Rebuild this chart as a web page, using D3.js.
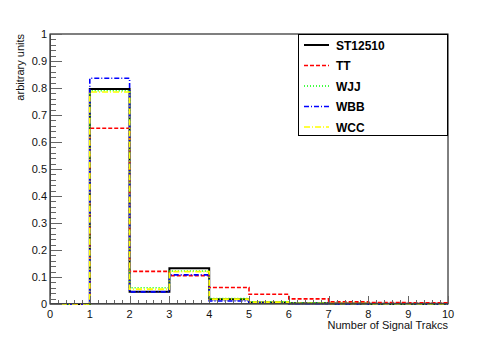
<!DOCTYPE html>
<html>
<head>
<meta charset="utf-8">
<script src="https://cdn.jsdelivr.net/npm/d3@7"></script>
<style>
  body { margin: 0; background: #fff; }
  text { font-family: "Liberation Sans", Arial, Helvetica, sans-serif; }
</style>
</head>
<body>
<div id="chart"></div>
<script>
// histogram of signal tracks, 10 bins from 0 to 10

const binEdges = [0, 1, 2, 3, 4, 5, 6, 7, 8, 9, 10];
const st12510 = [0, 0.796, 0.045, 0.132, 0.018, 0.006, 0.003, 0.002, 0.001, 0.001];
const tt      = [0, 0.651, 0.121, 0.105, 0.061, 0.036, 0.019, 0.008, 0.005, 0.004];
const wjj     = [0, 0.790, 0.060, 0.122, 0.020, 0.008, 0.004, 0.002, 0.001, 0.001];
const wbb     = [0, 0.836, 0.045, 0.108, 0.011, 0.004, 0.002, 0.001, 0.001, 0.001];
const wcc     = [0, 0.785, 0.055, 0.120, 0.018, 0.007, 0.003, 0.002, 0.001, 0.001];
const seriesNames = ["ST12510", "TT", "WJJ", "WBB", "WCC"];
const yTicks = [0, 0.1, 0.2, 0.3, 0.4, 0.5, 0.6, 0.7, 0.8, 0.9, 1];

const series = [
  {name: "ST12510", values: st12510, color: "#000000", dash: null, w: 2},
  {name: "TT", values: tt, color: "#ff0000", dash: "4 2", w: 1.6},
  {name: "WJJ", values: wjj, color: "#00ff00", dash: "1 2", w: 1.6},
  {name: "WBB", values: wbb, color: "#0000ff", dash: "5 2 1 2", w: 1.6},
  {name: "WCC", values: wcc, color: "#ffff00", dash: "6 2 1 2", w: 1.6}
];

const W = 498, H = 338;
const margin = {top: 34, right: 50, bottom: 34, left: 50};
const width = W - margin.left - margin.right,
      height = H - margin.top - margin.bottom;

const svg = d3.select("#chart")
  .append("svg")
    .attr("width", W)
    .attr("height", H);

const g = svg.append("g")
  .attr("transform", `translate(${margin.left}, ${margin.top})`);

let x = d3.scaleLinear().domain([0, 10]).range([0, width]);
let y = d3.scaleLinear().domain([0, 1]).range([height, 0]);

// frame
g.append("rect")
  .attr("x", 0).attr("y", 0)
  .attr("width", width).attr("height", height)
  .attr("fill", "none")
  .attr("stroke", "#000")
  .attr("stroke-width", 1);

// histograms as step outlines
const line = d3.line().x(d => x(d[0])).y(d => y(d[1]));
series.forEach(function(s) {
  let pts = [];
  s.values.forEach(function(v, i) {
    pts.push([binEdges[i], v]);
    pts.push([binEdges[i + 1], v]);
  });
  g.append("path")
    .attr("d", line(pts))
    .attr("fill", "none")
    .attr("stroke", s.color)
    .attr("stroke-width", s.w)
    .attr("stroke-dasharray", s.dash);
});

// Y axis
const yMinor = d3.range(0, 1.0001, 0.02);
g.append("g").selectAll("line")
  .data(yMinor)
  .join("line")
    .attr("x1", 0)
    .attr("x2", (d, i) => i % 5 === 0 ? 12 : 6)
    .attr("y1", d => Math.round(y(d)) + 0.5)
    .attr("y2", d => Math.round(y(d)) + 0.5)
    .attr("stroke", "#666");
g.append("line")
  .attr("x1", 0.5).attr("x2", 0.5).attr("y1", 0).attr("y2", height)
  .attr("stroke", "#444");
g.append("g").selectAll("text")
  .data(yTicks)
  .join("text")
    .attr("x", -3)
    .attr("y", d => y(d) + 4)
    .attr("text-anchor", "end")
    .attr("font-size", "11px")
    .attr("fill", "#111")
    .text(d => d3.format("~g")(d));

// X axis
const xMinor = d3.range(0, 10.0001, 0.2);
g.append("g").selectAll("line")
  .data(xMinor)
  .join("line")
    .attr("x1", d => Math.round(x(d)) + 0.5)
    .attr("x2", d => Math.round(x(d)) + 0.5)
    .attr("y1", height)
    .attr("y2", (d, i) => i % 5 === 0 ? height - 8 : height - 4)
    .attr("stroke", "#666");
g.append("line")
  .attr("x1", 0).attr("x2", width).attr("y1", height - 0.5).attr("y2", height - 0.5)
  .attr("stroke", "#444");
g.append("g").selectAll("text")
  .data(binEdges)
  .join("text")
    .attr("x", d => x(d))
    .attr("y", height + 14)
    .attr("text-anchor", "middle")
    .attr("font-size", "11px")
    .attr("fill", "#111")
    .text(d => d);

// axis titles
g.append("text")
  .attr("x", width)
  .attr("y", height + 25)
  .attr("text-anchor", "end")
  .attr("font-size", "11px")
  .attr("fill", "#111")
  .text("Number of Signal Trakcs");
g.append("text")
  .attr("transform", `translate(-26, 0) rotate(-90)`)
  .attr("text-anchor", "end")
  .attr("font-size", "11px")
  .attr("fill", "#111")
  .text("arbitrary units");

// legend
const lg = svg.append("g").attr("transform", "translate(298, 34)");
lg.append("rect")
  .attr("x", 0.5).attr("y", 0.5)
  .attr("width", 149).attr("height", 101)
  .attr("fill", "#fff")
  .attr("stroke", "#000");
series.forEach(function(s, i) {
  const ly = 11 + i * 20.5;
  lg.append("line")
    .attr("x1", 6).attr("x2", 31)
    .attr("y1", ly).attr("y2", ly)
    .attr("stroke", s.color)
    .attr("stroke-width", s.w)
    .attr("stroke-dasharray", s.dash);
  lg.append("text")
    .attr("x", 38)
    .attr("y", ly + 4.5)
    .attr("font-size", "12px")
    .attr("font-weight", "bold")
    .attr("fill", "#000")
    .text(seriesNames[i]);
});
</script>
</body>
</html>
